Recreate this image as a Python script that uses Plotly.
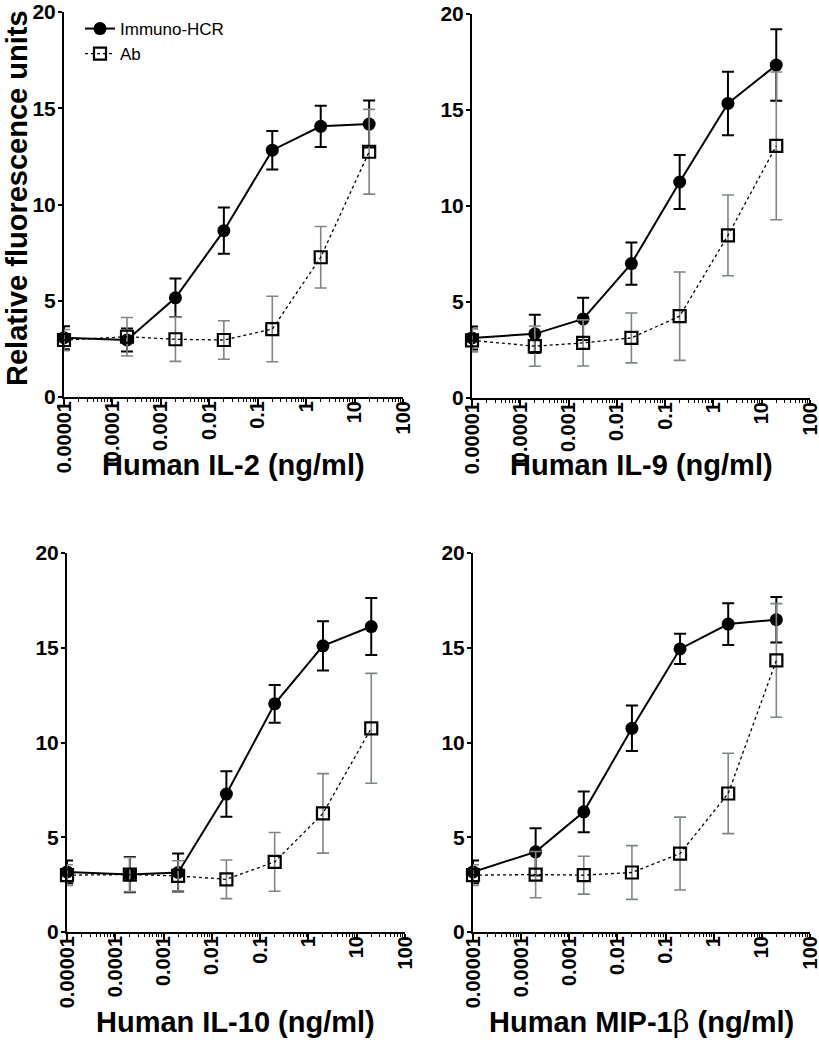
import plotly.graph_objects as go
from plotly.subplots import make_subplots

# concentrations (ng/ml), same for every panel
conc = [0.00001, 0.0002, 0.002, 0.02, 0.2, 2, 20]

tick_vals = [0.00001, 0.0001, 0.001, 0.01, 0.1, 1, 10, 100]
tick_text = ["0.00001", "0.0001", "0.001", "0.01", "0.1", "1", "10", "100"]

panel_titles = [
    "Human IL-2 (ng/ml)",
    "Human IL-9 (ng/ml)",
    "Human IL-10 (ng/ml)",
    "Human MIP-1<span style='font-family:DejaVu Serif;font-weight:normal'>β</span> (ng/ml)",
]

# Immuno-HCR
il2_hcr = [3.08, 2.96, 5.15, 8.64, 12.82, 14.06, 14.18]
il2_hcr_err = [0.6, 0.6, 1.0, 1.2, 1.0, 1.07, 1.22]
il9_hcr = [3.13, 3.34, 4.12, 7.0, 11.25, 15.34, 17.34]
il9_hcr_err = [0.6, 1.0, 1.1, 1.1, 1.4, 1.65, 1.86]
il10_hcr = [3.17, 3.03, 3.14, 7.28, 12.04, 15.1, 16.12]
il10_hcr_err = [0.6, 0.93, 1.0, 1.2, 1.0, 1.3, 1.5]
mip_hcr = [3.17, 4.23, 6.34, 10.75, 14.94, 16.25, 16.48]
mip_hcr_err = [0.6, 1.25, 1.07, 1.2, 0.8, 1.1, 1.2]

# Ab
il2_ab = [2.96, 3.13, 3.0, 2.96, 3.53, 7.26, 12.74]
il2_ab_err = [0.55, 1.0, 1.15, 1.0, 1.7, 1.6, 2.2]
il9_ab = [3.0, 2.7, 2.87, 3.13, 4.26, 8.47, 13.13]
il9_ab_err = [0.6, 1.05, 1.2, 1.3, 2.3, 2.1, 3.85]
il10_ab = [3.0, 3.03, 2.96, 2.78, 3.7, 6.26, 10.75]
il10_ab_err = [0.55, 0.9, 0.8, 1.02, 1.55, 2.1, 2.9]
mip_ab = [3.0, 3.03, 3.0, 3.14, 4.14, 7.31, 14.33]
mip_ab_err = [0.55, 1.22, 1.0, 1.42, 1.92, 2.12, 3.0]

panels = [
    (1, 1, il2_hcr, il2_hcr_err, il2_ab, il2_ab_err),
    (1, 2, il9_hcr, il9_hcr_err, il9_ab, il9_ab_err),
    (2, 1, il10_hcr, il10_hcr_err, il10_ab, il10_ab_err),
    (2, 2, mip_hcr, mip_hcr_err, mip_ab, mip_ab_err),
]

FONT = "Liberation Sans, Arial, sans-serif"
W, H = 819, 1050

# plot areas in pixels: x0, x1, ytop, ybottom
boxes = [(64, 403, 12, 397), (472, 810, 14, 398), (67, 405, 553, 932), (473, 810, 553, 932)]

fig = make_subplots(rows=2, cols=2)

for i, (r, c, hcr, hcr_err, ab, ab_err) in enumerate(panels):
    first = i == 0
    fig.add_trace(go.Scatter(
        x=conc, y=hcr, name="Immuno-HCR", mode="lines+markers",
        line=dict(color="black", width=2),
        marker=dict(symbol="circle", size=13, color="black"),
        error_y=dict(type="data", array=hcr_err, color="black", thickness=2, width=6),
        showlegend=first, legendrank=1, cliponaxis=False,
    ), row=r, col=c)
    fig.add_trace(go.Scatter(
        x=conc, y=ab, name="Ab", mode="lines+markers",
        line=dict(color="black", width=1.3, dash="dot"),
        marker=dict(symbol="square-open", size=12, color="black", line=dict(width=2.2)),
        error_y=dict(type="data", array=ab_err, color="#7d8883", thickness=1.6, width=6),
        showlegend=first, legendrank=2, cliponaxis=False,
    ), row=r, col=c)

for i, (x0, x1, yt, yb) in enumerate(boxes):
    n = "" if i == 0 else str(i + 1)
    fig.layout["xaxis" + n].update(
        domain=[x0 / W, x1 / W], type="log", range=[-5, 2], automargin=False,
        tickvals=tick_vals, ticktext=tick_text, tickangle=-90, ticklabelstandoff=-12,
        ticklabeloverflow="allow",
        ticks="outside", ticklen=6, tickwidth=2, tickcolor="black",
        minor=dict(ticks="outside", ticklen=3, tickwidth=1.2, tickcolor="black", dtick="D1"),
        showline=True, linecolor="black", linewidth=2, showgrid=False, zeroline=False,
        tickfont=dict(family=FONT, size=20, color="black", weight="bold"),
    )
    fig.layout["yaxis" + n].update(
        domain=[1 - yb / H, 1 - yt / H], range=[0, 20], tickvals=[0, 5, 10, 15, 20],
        automargin=False, ticklabelstandoff=-2,
        ticks="outside", ticklen=4, tickwidth=2, tickcolor="black",
        showline=True, linecolor="black", linewidth=2, showgrid=False, zeroline=False,
        tickfont=dict(family=FONT, size=21, color="black", weight="bold"),
    )

# panel x titles
title_y = [465, 465, 1022, 1022]
for (x0, x1, yt, yb), ty, txt in zip(boxes, title_y, panel_titles):
    fig.add_annotation(
        text=txt, xref="paper", yref="paper", x=(x0 + x1) / 2 / W, y=1 - ty / H,
        xanchor="center", yanchor="middle", showarrow=False,
        font=dict(family=FONT, size=29, color="black", weight="bold"),
    )

fig.add_annotation(
    text="Relative fluorescence units", xref="paper", yref="paper",
    x=17 / W, y=1 - 198 / H, xanchor="center", yanchor="middle", textangle=-90,
    showarrow=False, font=dict(family=FONT, size=29, color="black", weight="bold"),
)

fig.update_layout(
    width=W, height=H, margin=dict(l=0, r=0, t=0, b=0),
    paper_bgcolor="white", plot_bgcolor="white",
    font=dict(family=FONT, color="black"),
    legend=dict(x=80 / W, y=1 - 11 / H, xanchor="left", yanchor="top",
                bgcolor="rgba(0,0,0,0)", itemwidth=30,
                font=dict(family=FONT, size=17, color="black")),
)

# drop the browser's default body margin so the figure sits at the page corner
fig.write_html("out.html", config={"displayModeBar": False},
               post_script="document.body.style.margin='0';")
